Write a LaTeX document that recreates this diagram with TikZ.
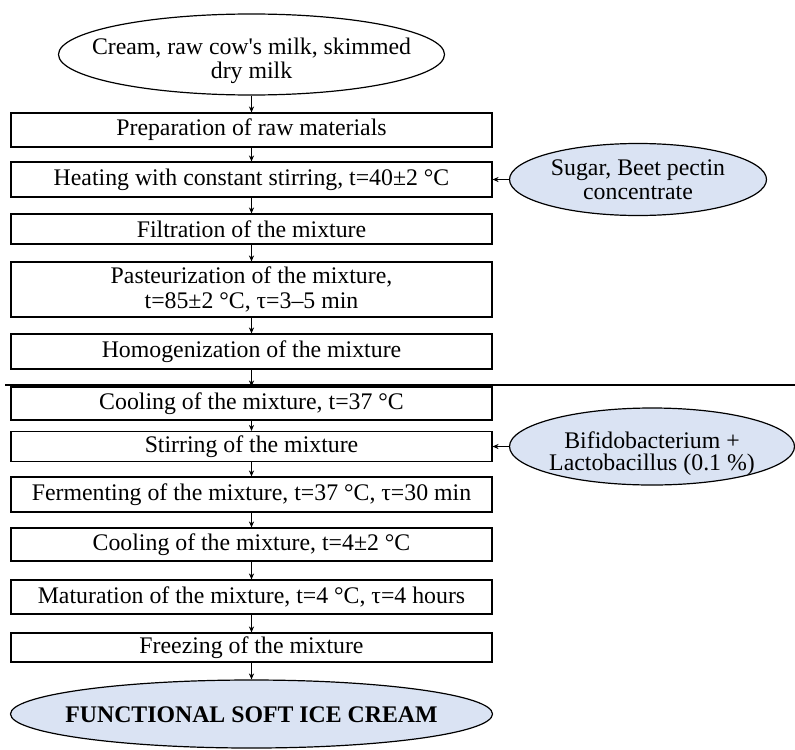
\documentclass[tikz,border=0pt]{standalone}
\usepackage{fontspec}
\newfontfamily\flowfont{Liberation Serif}
\usepackage{tikz}
\usetikzlibrary{positioning,arrows.meta,shapes.geometric}
\definecolor{cfill}{RGB}{218,227,243}
% text of an oval that does not widen the oval (optional drop)
\newcommand{\ovaltext}[2][0pt]{\makebox[0pt]{\raisebox{-#1}[\height][\depth]{\begin{tabular}{@{}c@{}}#2\end{tabular}}}}

\begin{document}
\begin{tikzpicture}[x=0.5pt,y=-0.5pt,
  font=\flowfont\fontsize{11.9}{12.4}\selectfont,
  stage/.style={rectangle,draw,line width=0.6pt,minimum width=240.5pt,align=center,inner sep=0},
  src/.style={ellipse,draw,line width=0.6pt,inner sep=0},
  add/.style={src,fill=cfill},
  a/.style={-{Stealth[length=3pt,width=2.6pt]},line width=0.5pt},
]
\useasboundingbox (0,0) rectangle (795,749);
% --- main line of stages ---
\node[src,minimum width=193pt,minimum height=40.5pt] (raw) at (251.5,54.5) {\ovaltext[3.5pt]{Cream, raw cow's milk, skimmed\\dry milk}};
\node[stage,minimum height=17pt] (prep) at (251.5,130) {Preparation of raw materials};
\node[stage,minimum height=17.5pt] (heat) at (251.5,179.5) {Heating with constant stirring, t=40±2 °C};
\node[stage,minimum height=15pt] (filt) at (251.5,229) {Filtration of the mixture};
\node[stage,minimum height=27.5pt] (past) at (251.5,289.5) {Pasteurization of the mixture,\\t=85±2 °C, τ=3–5 min};
\node[stage,minimum height=17.5pt] (homo) at (251.5,351.5) {Homogenization of the mixture};
\node[stage,minimum height=16.5pt] (cool1) at (251.5,403.5) {Cooling of the mixture, t=37 °C};
\node[stage,minimum height=15pt] (stir) at (251.5,446.5) {Stirring of the mixture};
\node[stage,minimum height=17.5pt] (ferm) at (251.5,494.5) {Fermenting of the mixture, t=37 °C, τ=30 min};
\node[stage,minimum height=16.5pt] (cool2) at (251.5,544.5) {Cooling of the mixture, t=4±2 °C};
\node[stage,minimum height=17pt] (matu) at (251.5,597) {Maturation of the mixture, t=4 °C, τ=4 hours};
\node[stage,minimum height=14.5pt] (frez) at (251.5,647.5) {Freezing of the mixture};
\node[add,minimum width=241pt,minimum height=34pt] (ice) at (251.5,714) {\ovaltext[2pt]{\bfseries FUNCTIONAL SOFT ICE CREAM}};
% --- additions ---
\node[add,minimum width=128.5pt,minimum height=36pt] (sugar) at (638,179.5) {\ovaltext[1.5pt]{Sugar, Beet pectin\\concentrate}};
\node[add,minimum width=142.5pt,minimum height=38.5pt] (bif) at (652,446.5) {\ovaltext[4pt]{Bifidobacterium +\\[-1pt]Lactobacillus (0.1 \%)}};
% --- separator ---
\coordinate (sepl) at (5,385);
\coordinate (sepr) at (795,385);
\draw[line width=0.8pt] (sepl) -- (sepr);
% --- arrows ---
\foreach \u/\v in {raw/prep,prep/heat,heat/filt,filt/past,past/homo,homo/cool1,cool1/stir,stir/ferm,ferm/cool2,cool2/matu,matu/frez,frez/ice}
  \draw[a] (\u) -- (\v);
\draw[a] (sugar) -- (heat);
\draw[a] (bif) -- (stir);
\end{tikzpicture}
\end{document}
